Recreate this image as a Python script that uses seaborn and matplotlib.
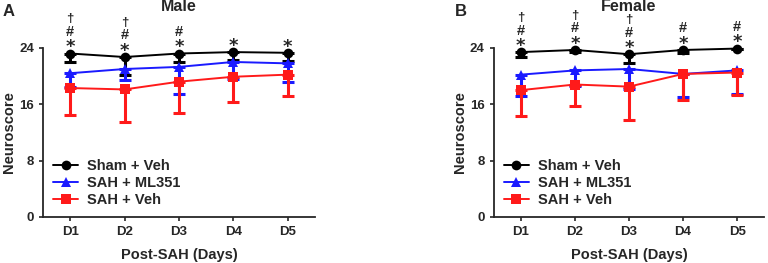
import numpy as np
import pandas as pd
import matplotlib.pyplot as plt
import seaborn as sns

# data (mean, lower SD end)
days = ["D1", "D2", "D3", "D4", "D5"]
groups = ["Sham + Veh", "SAH + ML351", "SAH + Veh"]

male_sham = [23.2, 22.7, 23.2, 23.4, 23.3]
male_sham_low = [22.0, 20.1, 22.0, 22.3, 22.1]
male_ml351 = [20.4, 21.0, 21.3, 22.0, 21.8]
male_ml351_low = [18.5, 19.5, 17.5, 19.6, 19.2]
male_veh = [18.3, 18.1, 19.2, 19.9, 20.2]
male_veh_low = [14.5, 13.5, 14.8, 16.3, 17.2]

female_sham = [23.4, 23.7, 23.1, 23.7, 23.9]
female_sham_low = [22.7, 23.4, 21.9, 23.3, 23.8]
female_ml351 = [20.2, 20.8, 21.0, 20.3, 20.8]
female_ml351_low = [17.2, 18.6, 18.2, 17.0, 17.5]
female_veh = [18.0, 18.8, 18.5, 20.3, 20.5]
female_veh_low = [14.4, 15.7, 13.7, 16.6, 17.3]

# significance symbols above the sham points, bottom to top
male_marks = ["*#\u2020", "*#\u2020", "*#", "*", "*"]
female_marks = ["*#\u2020", "*#\u2020", "*#\u2020", "*#", "*#"]

colors = {"Sham + Veh": "black", "SAH + ML351": "#1a1aff", "SAH + Veh": "#ff1a1a"}
markers = {"Sham + Veh": "o", "SAH + ML351": "^", "SAH + Veh": "s"}

sns.set_style("ticks")
plt.rcParams["font.family"] = ["Liberation Sans", "DejaVu Sans"]
plt.rcParams["font.weight"] = "bold"

fig = plt.figure(figsize=(7.68, 2.63), dpi=100)
ax1 = fig.add_axes([0.056, 0.175, 0.354, 0.643])
ax2 = fig.add_axes([0.643, 0.175, 0.352, 0.643])

panels = [
    (ax1, "Male", [male_sham, male_ml351, male_veh],
     [male_sham_low, male_ml351_low, male_veh_low], male_marks),
    (ax2, "Female", [female_sham, female_ml351, female_veh],
     [female_sham_low, female_ml351_low, female_veh_low], female_marks),
]

sym_style = {"*": (4.5, 13), "#": (15.5, 10.5), "\u2020": (24.5, 9.5)}

for ax, title, means, lows, marks in panels:
    rows = []
    for g, m in zip(groups, means):
        for i, v in enumerate(m):
            rows.append({"day": i, "group": g, "score": v})
    df = pd.DataFrame(rows)

    # one-sided error bars (downwards), drawn first
    for g, m, lo in zip(groups, means, lows):
        m = np.array(m)
        err = m - np.array(lo)
        ax.errorbar(range(len(days)), m, yerr=[err, np.zeros_like(err)],
                    fmt="none", ecolor=colors[g], elinewidth=2.2,
                    capsize=4, capthick=2.2, clip_on=False, zorder=2)

    sns.lineplot(data=df, x="day", y="score", hue="group", style="group",
                 palette=colors, markers=markers, dashes=False,
                 markersize=7, linewidth=1.4, markeredgewidth=0,
                 ax=ax, clip_on=False, zorder=3)

    for i, syms in enumerate(marks):
        for s in syms:
            dy, fs = sym_style[s]
            ax.annotate(s, (i, means[0][i]), xytext=(0, dy),
                        textcoords="offset points", ha="center", va="center",
                        fontsize=fs, fontweight="bold",
                        family=["DejaVu Sans"] if s == "*" else None)

    ax.set_xlim(-0.5, 4.5)
    ax.set_ylim(0, 24)
    ax.set_yticks([0, 8, 16, 24])
    ax.set_xticks(range(len(days)))
    ax.set_xticklabels(days)
    ax.tick_params(labelsize=9.5, width=1.2, length=3)
    for lab in ax.get_xticklabels() + ax.get_yticklabels():
        lab.set_fontweight("bold")
    ax.set_xlabel("Post-SAH (Days)", fontsize=10.5, fontweight="bold", labelpad=7)
    ax.set_ylabel("Neuroscore", fontsize=10.5, fontweight="bold", labelpad=2)
    ax.set_title(title, fontsize=11.5, fontweight="bold", pad=26.5)
    for s in ["left", "bottom"]:
        ax.spines[s].set_linewidth(1.3)
    sns.despine(ax=ax)

    leg = ax.legend(loc="lower left", bbox_to_anchor=(0.0, 0.0), frameon=False,
                    fontsize=10.5, handlelength=1.7, handletextpad=0.6,
                    labelspacing=0.2, borderaxespad=0.3)
    for t in leg.get_texts():
        t.set_fontweight("bold")

fig.text(0.003, 0.985, "A", fontsize=12, fontweight="bold", va="top")
fig.text(0.592, 0.985, "B", fontsize=12, fontweight="bold", va="top")

fig.savefig("out.png", dpi=100)
